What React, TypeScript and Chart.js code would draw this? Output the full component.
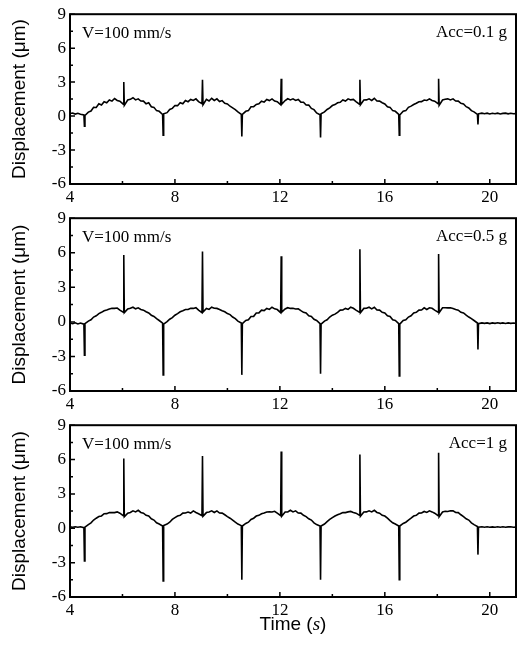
import React, { useEffect, useRef } from "react";
import { Chart, registerables } from "chart.js";

Chart.register(...registerables);

// ---------- data ----------
const time = [
  4.0, 4.1, 4.2, 4.3, 4.4, 4.53, 4.55,
  4.57, 4.7, 4.8, 4.9, 5.0, 5.1, 5.2, 5.3, 5.4, 5.5, 5.6, 5.7, 5.8, 5.9, 6.03, 6.05,
  6.07, 6.2, 6.3, 6.4, 6.5, 6.6, 6.7, 6.8, 6.9, 7.0, 7.1, 7.2, 7.3, 7.4, 7.53, 7.55,
  7.57, 7.7, 7.8, 7.9, 8.0, 8.1, 8.2, 8.3, 8.4, 8.5, 8.6, 8.7, 8.8, 8.9, 9.03, 9.05,
  9.07, 9.2, 9.3, 9.4, 9.5, 9.6, 9.7, 9.8, 9.9, 10.0, 10.1, 10.2, 10.3, 10.4, 10.53, 10.55,
  10.57, 10.7, 10.8, 10.9, 11.0, 11.1, 11.2, 11.3, 11.4, 11.5, 11.6, 11.7, 11.8, 11.9, 12.03, 12.05,
  12.07, 12.2, 12.3, 12.4, 12.5, 12.6, 12.7, 12.8, 12.9, 13.0, 13.1, 13.2, 13.3, 13.4, 13.53, 13.55,
  13.57, 13.7, 13.8, 13.9, 14.0, 14.1, 14.2, 14.3, 14.4, 14.5, 14.6, 14.7, 14.8, 14.9, 15.03, 15.05,
  15.07, 15.2, 15.3, 15.4, 15.5, 15.6, 15.7, 15.8, 15.9, 16.0, 16.1, 16.2, 16.3, 16.4, 16.53, 16.55,
  16.57, 16.7, 16.8, 16.9, 17.0, 17.1, 17.2, 17.3, 17.4, 17.5, 17.6, 17.7, 17.8, 17.9, 18.03, 18.05,
  18.07, 18.2, 18.3, 18.4, 18.5, 18.6, 18.7, 18.8, 18.9, 19.0, 19.1, 19.2, 19.3, 19.4, 19.53, 19.55,
  19.57, 19.7, 19.8, 19.9, 20.0, 20.1, 20.2, 20.3, 20.4, 20.5, 20.6, 20.7, 20.8, 20.9, 21.0,
];

const dispAcc01 = [
  0.22, 0.27, 0.18, 0.25, 0.17, 0.1, -0.9,
  0.05, 0.35, 0.45, 0.78, 0.76, 1.08, 0.98, 1.27, 1.18, 1.42, 1.32, 1.55, 1.38, 1.32, 1.05, 3.0,
  0.95, 1.42, 1.48, 1.62, 1.43, 1.52, 1.33, 1.32, 1.08, 1.17, 0.83, 0.77, 0.48, 0.42, 0.14, -1.7,
  0.2, 0.3, 0.58, 0.68, 0.93, 0.92, 1.18, 1.08, 1.37, 1.27, 1.47, 1.38, 1.52, 1.28, 1.1, 3.2,
  1.0, 1.47, 1.33, 1.57, 1.38, 1.52, 1.28, 1.37, 1.13, 1.07, 0.87, 0.72, 0.57, 0.37, 0.15, -1.8,
  0.15, 0.42, 0.48, 0.82, 0.83, 1.03, 1.08, 1.32, 1.23, 1.47, 1.37, 1.52, 1.33, 1.27, 1.0, 3.3,
  1.05, 1.37, 1.53, 1.43, 1.52, 1.38, 1.47, 1.23, 1.22, 0.98, 0.97, 0.68, 0.57, 0.28, 0.12, -1.9,
  0.2, 0.37, 0.58, 0.72, 0.93, 1.02, 1.18, 1.22, 1.42, 1.33, 1.52, 1.43, 1.47, 1.28, 1.05, 3.2,
  1.0, 1.42, 1.43, 1.52, 1.38, 1.57, 1.33, 1.32, 1.18, 1.07, 0.83, 0.77, 0.48, 0.42, 0.15, -1.7,
  0.1, 0.42, 0.48, 0.77, 0.88, 1.02, 1.13, 1.27, 1.28, 1.42, 1.38, 1.52, 1.38, 1.32, 1.1, 3.3,
  0.95, 1.42, 1.48, 1.52, 1.43, 1.52, 1.33, 1.32, 1.13, 1.07, 0.83, 0.72, 0.48, 0.37, 0.15, -0.75,
  0.2, 0.26, 0.21, 0.26, 0.19, 0.25, 0.21, 0.26, 0.19, 0.24, 0.26, 0.2, 0.25, 0.21, 0.22,
];

const dispAcc05 = [
  -0.1, -0.16, -0.08, -0.18, -0.1, -0.2, -2.9,
  -0.15, 0.07, 0.18, 0.42, 0.53, 0.72, 0.83, 0.97, 1.03, 1.12, 1.18, 1.17, 1.2, 1.02, 0.85, 5.8,
  0.8, 1.12, 1.18, 1.27, 1.13, 1.22, 1.08, 1.02, 0.88, 0.77, 0.58, 0.47, 0.28, 0.12, -0.1, -4.6,
  -0.2, 0.02, 0.23, 0.37, 0.58, 0.72, 0.88, 0.97, 1.08, 1.07, 1.18, 1.17, 1.23, 1.02, 0.8, 6.1,
  0.85, 1.17, 1.08, 1.27, 1.18, 1.17, 1.08, 0.97, 0.88, 0.72, 0.63, 0.42, 0.28, 0.07, -0.1, -4.6,
  -0.15, 0.12, 0.18, 0.47, 0.48, 0.77, 0.78, 1.02, 0.98, 1.17, 1.08, 1.27, 1.13, 1.07, 0.8, 5.7,
  0.85, 1.12, 1.23, 1.17, 1.18, 1.12, 1.13, 0.97, 0.83, 0.77, 0.53, 0.47, 0.23, 0.12, -0.15, -4.5,
  -0.2, 0.07, 0.18, 0.42, 0.58, 0.67, 0.83, 1.02, 1.03, 1.17, 1.08, 1.27, 1.18, 1.02, 0.85, 6.3,
  0.8, 1.17, 1.18, 1.27, 1.13, 1.27, 1.03, 1.02, 0.83, 0.77, 0.53, 0.47, 0.18, 0.12, -0.15, -4.7,
  -0.2, 0.12, 0.18, 0.42, 0.53, 0.77, 0.83, 1.02, 1.03, 1.22, 1.08, 1.22, 1.18, 1.02, 0.85, 5.9,
  0.8, 1.22, 1.23, 1.22, 1.23, 1.17, 1.08, 1.02, 0.83, 0.77, 0.58, 0.42, 0.28, 0.12, -0.1, -2.4,
  -0.15, -0.09, -0.13, -0.09, -0.15, -0.09, -0.13, -0.08, -0.13, -0.09, -0.14, -0.09, -0.13, -0.1, -0.12,
];

const dispAcc1 = [
  0.12, 0.09, 0.13, 0.09, 0.13, 0.05, -2.85,
  0.1, 0.32, 0.48, 0.72, 0.88, 1.02, 1.08, 1.27, 1.28, 1.37, 1.38, 1.37, 1.43, 1.32, 1.1, 6.1,
  1.0, 1.32, 1.38, 1.52, 1.43, 1.57, 1.38, 1.32, 1.13, 1.07, 0.83, 0.72, 0.48, 0.37, 0.2, -4.6,
  0.25, 0.37, 0.53, 0.77, 0.93, 1.07, 1.13, 1.32, 1.33, 1.42, 1.33, 1.52, 1.38, 1.27, 1.1, 6.3,
  1.05, 1.37, 1.43, 1.52, 1.38, 1.52, 1.33, 1.32, 1.18, 1.02, 0.88, 0.72, 0.53, 0.37, 0.23, -4.5,
  0.2, 0.42, 0.53, 0.77, 0.88, 1.07, 1.13, 1.27, 1.33, 1.42, 1.43, 1.42, 1.48, 1.32, 1.1, 6.7,
  1.05, 1.42, 1.43, 1.57, 1.43, 1.52, 1.33, 1.32, 1.13, 1.02, 0.83, 0.72, 0.48, 0.32, 0.2, -4.5,
  0.2, 0.37, 0.58, 0.77, 0.93, 1.07, 1.18, 1.27, 1.38, 1.37, 1.43, 1.47, 1.38, 1.32, 1.15, 6.45,
  1.05, 1.42, 1.43, 1.52, 1.43, 1.57, 1.38, 1.32, 1.13, 1.07, 0.88, 0.67, 0.48, 0.37, 0.2, -4.5,
  0.2, 0.42, 0.53, 0.72, 0.88, 1.07, 1.13, 1.32, 1.33, 1.47, 1.38, 1.52, 1.43, 1.32, 1.1, 6.6,
  1.0, 1.42, 1.48, 1.47, 1.53, 1.52, 1.38, 1.37, 1.18, 1.02, 0.83, 0.72, 0.48, 0.32, 0.15, -2.3,
  0.1, 0.13, 0.09, 0.13, 0.09, 0.12, 0.09, 0.13, 0.09, 0.13, 0.09, 0.12, 0.13, 0.09, 0.1,
];

const accLabels = ["Acc=0.1 g", "Acc=0.5 g", "Acc=1 g"];
const speedLabel = "V=100 mm/s";
const xMajorTicks = [4, 8, 12, 16, 20];
const xMinorTicks = [6, 10, 14, 18];
const yMajorTicks = [-6, -3, 0, 3, 6, 9];
const yMinorTicks = [-4.5, -1.5, 1.5, 4.5, 7.5];
const yTitle = "Displacement (\u03bcm)";
const xTitleParts = ["Time (", "s", ")"];

// ---------- layout ----------
const PANELS = [
  { values: dispAcc01, acc: accLabels[0], top: 0, height: 204, xAxisH: 20, showXTitle: false },
  { values: dispAcc05, acc: accLabels[1], top: 204, height: 207, xAxisH: 20, showXTitle: false },
  { values: dispAcc1, acc: accLabels[2], top: 411, height: 234, xAxisH: 48, showXTitle: true },
];

const SERIF = '"Liberation Serif", "Times New Roman", serif';
const SANS = '"Liberation Sans", Arial, sans-serif';

function makeFramePlugin(acc: string, showXTitle: boolean) {
  return {
    id: "frameTicks",
    afterDraw(chart: any) {
      const { ctx, chartArea: a, scales } = chart;
      const x = scales.x;
      const y = scales.y;
      ctx.save();
      ctx.strokeStyle = "#000";
      ctx.lineWidth = 1.5;
      ctx.beginPath();
      xMajorTicks.forEach((v) => {
        const px = x.getPixelForValue(v);
        ctx.moveTo(px, a.bottom);
        ctx.lineTo(px, a.bottom - 5);
      });
      xMinorTicks.forEach((v) => {
        const px = x.getPixelForValue(v);
        ctx.moveTo(px, a.bottom);
        ctx.lineTo(px, a.bottom - 3);
      });
      yMajorTicks.forEach((v) => {
        const py = y.getPixelForValue(v);
        ctx.moveTo(a.left, py);
        ctx.lineTo(a.left + 5, py);
      });
      yMinorTicks.forEach((v) => {
        const py = y.getPixelForValue(v);
        ctx.moveTo(a.left, py);
        ctx.lineTo(a.left + 3, py);
      });
      ctx.stroke();
      ctx.lineWidth = 2;
      ctx.strokeRect(a.left, a.top, a.right - a.left, a.bottom - a.top);

      ctx.fillStyle = "#000";
      ctx.font = `17px ${SERIF}`;
      ctx.textBaseline = "middle";
      ctx.textAlign = "left";
      ctx.fillText(speedLabel, a.left + 12, a.top + 19);
      ctx.textAlign = "right";
      ctx.fillText(acc, a.right - 9, a.top + 18);

      if (showXTitle) {
        const fonts = [`19px ${SANS}`, `italic 19px ${SERIF}`, `19px ${SANS}`];
        const widths = xTitleParts.map((t, i) => {
          ctx.font = fonts[i];
          return ctx.measureText(t).width;
        });
        const total = widths.reduce((s, w) => s + w, 0);
        let cx = (a.left + a.right) / 2 - total / 2;
        const cy = a.bottom + 28;
        ctx.textAlign = "left";
        ctx.textBaseline = "middle";
        xTitleParts.forEach((t, i) => {
          ctx.font = fonts[i];
          ctx.fillText(t, cx, cy);
          cx += widths[i];
        });
      }
      ctx.restore();
    },
  };
}

function Panel({ p }: { p: (typeof PANELS)[number] }) {
  const ref = useRef<HTMLCanvasElement | null>(null);
  useEffect(() => {
    if (!ref.current) return;
    const data = time.map((t, i) => ({ x: t, y: p.values[i] }));
    const chart = new Chart(ref.current, {
      type: "line",
      data: {
        datasets: [
          {
            data,
            borderColor: "#000",
            borderWidth: 1.6,
            pointRadius: 0,
            tension: 0,
            fill: false,
          },
        ],
      },
      options: {
        responsive: false,
        animation: false,
        devicePixelRatio: 1,
        layout: { padding: { top: 14, right: 4, left: 0, bottom: 0 } },
        plugins: { legend: { display: false }, tooltip: { enabled: false } },
        scales: {
          x: {
            type: "linear",
            min: 4,
            max: 21,
            afterBuildTicks: (s: any) => {
              s.ticks = xMajorTicks.map((v) => ({ value: v }));
            },
            afterFit: (s: any) => {
              s.height = p.xAxisH;
            },
            grid: { display: false, drawTicks: false },
            border: { display: false },
            ticks: {
              color: "#000",
              padding: 3,
              maxRotation: 0,
              font: { family: SERIF, size: 17 },
            },
          },
          y: {
            type: "linear",
            min: -6,
            max: 9,
            afterBuildTicks: (s: any) => {
              s.ticks = yMajorTicks.map((v) => ({ value: v }));
            },
            afterFit: (s: any) => {
              s.width = 70;
            },
            grid: { display: false, drawTicks: false },
            border: { display: false },
            ticks: {
              color: "#000",
              padding: 4,
              font: { family: SERIF, size: 17 },
            },
            title: {
              display: true,
              text: yTitle,
              color: "#000",
              font: { family: SANS, size: 19 },
              padding: { top: 8, bottom: 0 },
            },
          },
        },
      },
      plugins: [makeFramePlugin(p.acc, p.showXTitle)],
    } as any);
    return () => chart.destroy();
  }, [p]);
  return (
    <canvas
      ref={ref}
      width={520}
      height={p.height}
      style={{ position: "absolute", left: 0, top: p.top, display: "block" }}
    />
  );
}

export default function App() {
  return (
    <div
      style={{
        position: "absolute",
        left: 0,
        top: 0,
        width: 520,
        height: 645,
        background: "#fff",
        overflow: "hidden",
      }}
    >
      {PANELS.map((p, i) => (
        <Panel key={i} p={p} />
      ))}
    </div>
  );
}
